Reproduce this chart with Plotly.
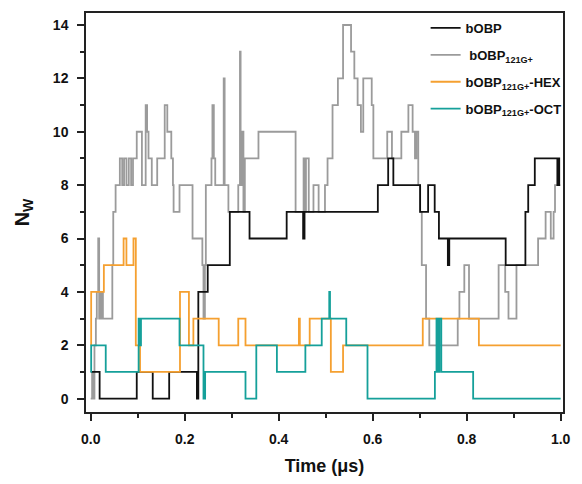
import plotly.graph_objects as go

# Water count N_W over simulation time (µs) for four systems, drawn as step traces.
black_t = [0.0, 0.019, 0.098, 0.132, 0.167, 0.226, 0.229, 0.249, 0.296, 0.338, 0.417, 0.452,
           0.455, 0.611, 0.633, 0.644, 0.701, 0.718, 0.732, 0.741, 0.760, 0.763, 0.883, 0.925,
           0.931, 0.945, 0.993, 0.995, 0.997, 0.999]
black_n = [1, 0, 1, 0, 1, 0, 4, 5, 7, 6, 7, 6,
           7, 8, 9, 8, 7, 8, 7, 6, 5, 6, 5, 7,
           8, 9, 8, 9, 8, 8]

gray_t = [0.000, 0.003, 0.005, 0.008, 0.011, 0.013, 0.016, 0.018, 0.020, 0.022, 0.024, 0.026,
          0.046, 0.048, 0.053, 0.062, 0.067, 0.071, 0.076, 0.081, 0.086, 0.090, 0.098, 0.109,
          0.117, 0.120, 0.123, 0.130, 0.1415, 0.1575, 0.163, 0.1715, 0.175, 0.1764, 0.189, 0.2167,
          0.2376, 0.240, 0.243, 0.245, 0.257, 0.259, 0.262, 0.265, 0.283, 0.285, 0.293, 0.314,
          0.3176, 0.319, 0.321, 0.323, 0.325, 0.328, 0.3315, 0.357, 0.436, 0.453, 0.455, 0.458,
          0.464, 0.474, 0.485, 0.4985, 0.504, 0.5146, 0.526, 0.537, 0.554, 0.561, 0.568, 0.575,
          0.580, 0.598, 0.6015, 0.631, 0.641, 0.661, 0.676, 0.685, 0.690, 0.693, 0.697, 0.701,
          0.7045, 0.7136, 0.7205, 0.781, 0.7846, 0.795, 0.805, 0.868, 0.882, 0.889, 0.906, 0.952,
          0.968, 0.979, 0.985, 0.988, 0.999]
gray_n = [0, 1, 0, 2, 3, 4, 6, 3, 4, 3, 4, 3,
          5, 7, 8, 9, 8, 9, 8, 9, 8, 9, 10, 8,
          11, 10, 9, 8, 9, 11, 10, 9, 8, 7, 8, 6,
          5, 3, 5, 8, 9, 11, 9, 8, 12, 8, 7, 8,
          13, 10, 8, 10, 7, 9, 9, 10, 7, 9, 7, 9,
          7, 8, 7, 8, 9, 11, 12, 14, 13, 12, 11, 10,
          12, 11, 9, 10, 9, 10, 11, 10, 9, 10, 8, 7,
          5, 3, 2, 3, 4, 5, 3, 5, 4, 3, 5, 6,
          7, 6, 7, 8, 8]

hex_t = [0.000, 0.001, 0.028, 0.070, 0.076, 0.091, 0.096, 0.105, 0.190, 0.209, 0.2185, 0.2724,
         0.314, 0.3294, 0.443, 0.445, 0.466, 0.511, 0.537, 0.7066, 0.826, 1.0]
hex_n = [2, 4, 5, 6, 5, 6, 2, 1, 4, 2, 3, 2,
         3, 2, 3, 2, 3, 1, 2, 3, 2, 2]

oct_t = [0.000, 0.001, 0.032, 0.102, 0.104, 0.107, 0.189, 0.240, 0.2435, 0.3294, 0.3524, 0.3962,
         0.4568, 0.4916, 0.5076, 0.5092, 0.5438, 0.589, 0.7324, 0.7358, 0.7395, 0.742, 0.746,
         0.8138, 1.0]
oct_n = [1, 2, 1, 3, 2, 3, 2, 0, 1, 0, 2, 1,
         2, 3, 4, 3, 2, 0, 1, 3, 1, 3, 1,
         0, 0]

FONT = "Liberation Sans, Arial, sans-serif"

series = [
    (gray_t, gray_n, "\u00a0bOBP<sub>121G+</sub>", "#9b9b9b", 2),
    (black_t, black_n, "bOBP", "#111111", 1),
    (hex_t, hex_n, "bOBP<sub>121G+</sub>-HEX", "#f5a030", 3),
    (oct_t, oct_n, "bOBP<sub>121G+</sub>-OCT", "#15a09a", 4),
]

fig = go.Figure()
for t, n, name, color, rank in series:
    fig.add_trace(go.Scatter(
        x=t, y=n, mode="lines", name=name,
        line=dict(color=color, width=1.8, shape="hv"),
        legendrank=rank, legendgroup=name,
    ))

axis_common = dict(
    showline=True, linecolor="#222", linewidth=1.5, mirror=True,
    showgrid=False, zeroline=False,
    ticks="outside", ticklen=7, tickwidth=1.5, tickcolor="#222",
    tickfont=dict(family=FONT, size=14, color="#111", weight="bold"),
    ticklabelstandoff=6,
)

fig.update_xaxes(
    range=[-0.01, 1.005], tickvals=[0, 0.2, 0.4, 0.6, 0.8, 1.0], tickformat=".1f",
    minor=dict(dtick=0.1, tick0=0, ticks="outside", ticklen=4, tickwidth=1.5, tickcolor="#222"),
    title=dict(text="Time (\u03bcs)", font=dict(family=FONT, size=18, color="#111", weight="bold"),
               standoff=14),
    **axis_common,
)
fig.update_yaxes(
    range=[-0.5, 14.45], tickvals=list(range(0, 15, 2)),
    minor=dict(dtick=1, tick0=0, ticks="outside", ticklen=4, tickwidth=1.5, tickcolor="#222"),
    title=dict(text="N<sub>W</sub>", font=dict(family=FONT, size=20, color="#111", weight="bold"),
               standoff=18),
    **axis_common,
)

fig.update_layout(
    width=582, height=484,
    margin=dict(l=86, r=11, t=13, b=71),
    paper_bgcolor="white", plot_bgcolor="white",
    showlegend=True,
    legend=dict(
        x=0.712, y=1.0, xanchor="left", yanchor="top",
        bgcolor="rgba(0,0,0,0)", borderwidth=0,
        font=dict(family=FONT, size=13, color="#111", weight="bold"),
        tracegroupgap=7,
    ),
)

fig.write_html("out.html")
